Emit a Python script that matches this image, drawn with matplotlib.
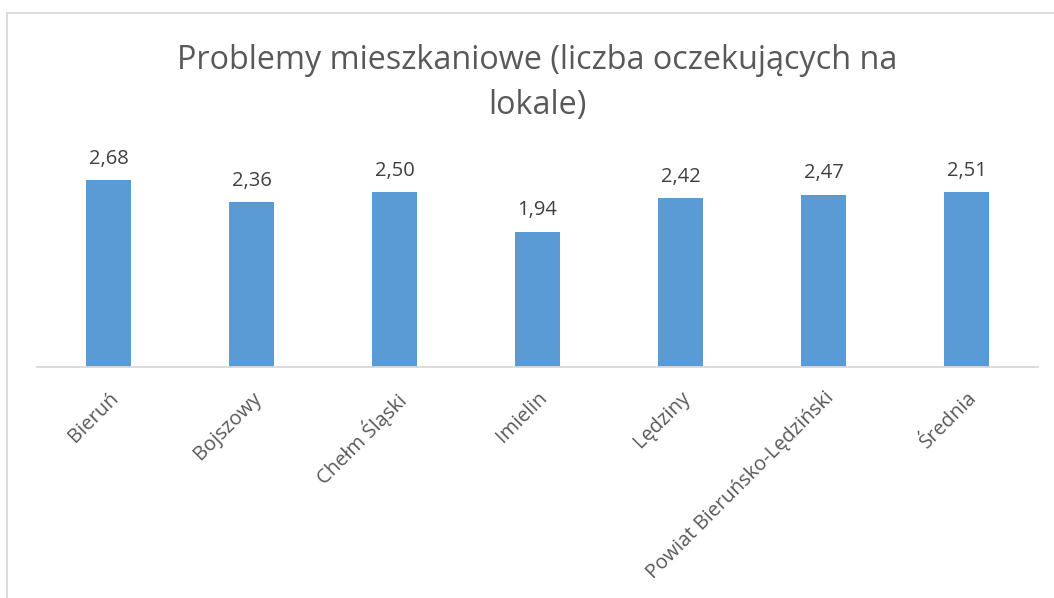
import matplotlib
matplotlib.use("Agg")
import matplotlib.pyplot as plt
from matplotlib.patches import Rectangle

# gminy powiatu i średnia
gminy = ["Bieruń", "Bojszowy", "Chełm Śląski", "Imielin", "Lędziny",
         "Powiat Bieruńsko-Lędziński", "Średnia"]
wartosci = [2.68, 2.36, 2.50, 1.94, 2.42, 2.47, 2.51]

plt.rcParams['font.family'] = ['Open Sans', 'DejaVu Sans']
szary = "#595959"

fig = plt.figure(figsize=(10.54, 5.98), dpi=100)

# jasna ramka wokół wykresu
fig.patches.append(Rectangle((7 / 1054, -0.1), 1.1, (598 - 13) / 598 + 0.1,
                             transform=fig.transFigure, fill=False,
                             edgecolor="#D9D9D9", linewidth=1.3))

ax = fig.add_axes([37 / 1054, (598 - 367) / 598, 1001 / 1054, 209.4 / 598])
x = range(len(gminy))
ax.bar(x, wartosci, width=0.315, color="#5B9BD5")

# etykiety wartości nad słupkami
for i, v in zip(x, wartosci):
    ax.annotate(f"{v:.2f}".replace(".", ","), (i, v), xytext=(0, 8),
                textcoords="offset points", ha="center", va="bottom",
                fontsize=14.5, color="#404040")

ax.set_xlim(-0.5, len(gminy) - 0.5)
ax.set_ylim(0, 3)
ax.set_yticks([])
ax.set_xticks(list(x))
ax.set_xticklabels(gminy, rotation=45, ha="right", rotation_mode="anchor",
                   fontsize=14.5, color=szary)
ax.tick_params(axis="x", length=0, pad=15)
for s in ["top", "right", "left"]:
    ax.spines[s].set_visible(False)
ax.spines["bottom"].set_color("#D9D9D9")
ax.spines["bottom"].set_linewidth(1.3)
ax.patch.set_alpha(0)

fig.text(537 / 1054, 1 - 83 / 598,
         "Problemy mieszkaniowe (liczba oczekujących na\nlokale)",
         ha="center", va="center", fontsize=23.3, color=szary, linespacing=1.45)

fig.savefig("out.png", dpi=100)
